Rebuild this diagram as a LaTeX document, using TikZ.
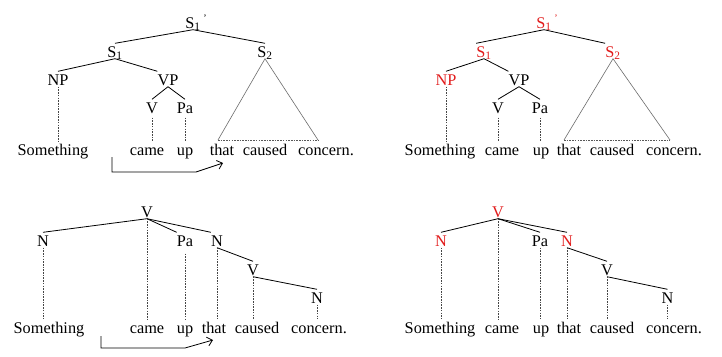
\documentclass[tikz,border=0pt]{standalone}
\usepackage{fontspec}
\setmainfont{Liberation Serif}
\usetikzlibrary{arrows.meta}
\definecolor{hl}{RGB}{226,28,28}
\definecolor{dl}{RGB}{70,70,70}
\tikzset{
  lab/.style={inner xsep=0pt, inner ysep=1.5pt, text height=12pt, text depth=0pt, anchor=base, font=\fontsize{16.3}{19}\selectfont},
  hlab/.style={lab, text=hl},
  tree/.style={line width=0.8pt, black},
  dotl/.style={line width=0.5pt, dl, dash pattern=on 1.6pt off 1.1pt},
  tri/.style={line width=0.6pt, gray!85!black},
  trib/.style={line width=0.6pt, gray!70!black, dash pattern=on 1.6pt off 1.1pt},
  arr/.style={line width=0.8pt, black, -{Straight Barb[length=5pt,width=9pt]}}
}
\newcommand{\Sone}{S\textsubscript{1}}
\newcommand{\Stwo}{S\textsubscript{2}}
\newcommand{\Sprime}{S\textsubscript{1}\rlap{\,\textsuperscript{\fontsize{10}{10}\selectfont'}}}
\begin{document}
\begin{tikzpicture}[x=1pt,y=-1pt]
\path[use as bounding box,fill=white] (0,0) rectangle (722,356);

% ---------- top left ----------
\node[lab] (aS1p) at (193,28) {\Sprime};
\node[lab] (aS1) at (115,57) {\Sone};
\node[lab] (aS2) at (265,57) {\Stwo};
\node[lab] (aNP) at (58,85) {NP};
\node[lab] (aVP) at (168,85) {VP};
\node[lab] (aV) at (152,113) {V};
\node[lab] (aPa) at (185,113) {Pa};
\node[lab] (aw1) at (53,155) {Something};
\node[lab] (aw2) at (147,155) {came};
\node[lab] (aw3) at (185,155) {up};
\node[lab] (aw4) at (222,155) {that};
\node[lab] (aw5) at (265,155) {caused};
\node[lab] (aw6) at (326,155) {concern.};
\draw[tree] (aS1p.south) -- (aS1.north);
\draw[tree] (aS1p.south) -- (aS2.north);
\draw[tree] (aS1.south) -- (aNP.north);
\draw[tree] (aS1.south) -- (aVP.north west);
\draw[tree] (aVP.south) -- (aV.north);
\draw[tree] (aVP.south) -- (aPa.north);
\draw[dotl] (aNP.south) -- (aNP.south |- aw1.north);
\draw[dotl,shorten <=3pt] (aV.south) -- (aV.south |- aw2.north);
\draw[dotl,shorten <=3pt] (aPa.south) -- (aPa.south |- aw3.north);
\coordinate (atl) at (218,140);
\coordinate (atr) at (318,140);
\draw[tri] (atl) -- (aS2.south) -- (atr);
\draw[trib] (atl) -- (atr);
\coordinate (aa0) at (112,157);
\coordinate (aa1) at (196,172);
\coordinate (aa2) at (223,163);
\draw[arr] (aa0) |- (aa1) -- (aa2);

% ---------- top right ----------
\node[hlab] (bS1p) at (544,28) {\Sprime};
\node[hlab] (bS1) at (484,57) {\Sone};
\node[hlab] (bS2) at (613,57) {\Stwo};
\node[hlab] (bNP) at (446,85) {NP};
\node[lab] (bVP) at (519,85) {VP};
\node[lab] (bV) at (498,113) {V};
\node[lab] (bPa) at (540,113) {Pa};
\node[lab] (bw1) at (440,155) {Something};
\node[lab] (bw2) at (502,155) {came};
\node[lab] (bw3) at (541,155) {up};
\node[lab] (bw4) at (569,155) {that};
\node[lab] (bw5) at (612,155) {caused};
\node[lab] (bw6) at (674,155) {concern.};
\draw[tree] (bS1p.south) -- (bS1.north west);
\draw[tree] (bS1p.south) -- (bS2.north west);
\draw[tree] (bS1.south) -- (bNP.north);
\draw[tree] (bS1.south) -- (bVP.north west);
\draw[tree] (bVP.south) -- (bV.north);
\draw[tree] (bVP.south) -- (bPa.north);
\draw[dotl] (bNP.south) -- (bNP.south |- bw1.north);
\draw[dotl,shorten <=3pt] (bV.south) -- (bV.south |- bw2.north);
\draw[dotl,shorten <=3pt] (bPa.south) -- (bPa.south |- bw3.north);
\coordinate (btl) at (564,140);
\coordinate (btr) at (670,140);
\draw[tri] (btl) -- (bS2.south) -- (btr);
\draw[trib] (btl) -- (btr);

% ---------- bottom left ----------
\node[lab] (cV) at (147,217) {V};
\node[lab] (cN) at (43,246) {N};
\node[lab] (cPa) at (185,246) {Pa};
\node[lab] (cN2) at (217,246) {N};
\node[lab] (cV2) at (253,275) {V};
\node[lab] (cN3) at (317,303) {N};
\node[lab] (cw1) at (49,333) {Something};
\node[lab] (cw2) at (147,333) {came};
\node[lab] (cw3) at (185,333) {up};
\node[lab] (cw4) at (214,333) {that};
\node[lab] (cw5) at (257,333) {caused};
\node[lab] (cw6) at (319,333) {concern.};
\draw[tree] (cV.south) -- (cN.north);
\draw[tree] (cV.south) -- (cPa.north west);
\draw[tree] (cV.south) -- (cN2.north west);
\draw[tree] (cN2.south) -- (cV2.north);
\draw[tree] (cV2.south) -- (cN3.north);
\draw[dotl] (cV.south) -- (cV.south |- cw2.north);
\draw[dotl] (cN.south) -- (cN.south |- cw1.north);
\draw[dotl,shorten <=6pt] (cPa.south) -- (cPa.south |- cw3.north);
\draw[dotl] (cN2.south) -- (cN2.south |- cw4.north);
\draw[dotl] (cV2.south) -- (cV2.south |- cw5.north);
\draw[dotl] (cN3.south) -- (cN3.south |- cw6.north);
\coordinate (ca0) at (101,336);
\coordinate (ca1) at (185,348);
\coordinate (ca2) at (213,340);
\draw[arr] (ca0) |- (ca1) -- (ca2);

% ---------- bottom right ----------
\node[hlab] (dV) at (498,217) {V};
\node[hlab] (dN) at (441,246) {N};
\node[lab] (dPa) at (540,246) {Pa};
\node[hlab] (dN2) at (567,246) {N};
\node[lab] (dV2) at (607,275) {V};
\node[lab] (dN3) at (667.5,303) {N};
\node[lab] (dw1) at (440,333) {Something};
\node[lab] (dw2) at (502,333) {came};
\node[lab] (dw3) at (541,333) {up};
\node[lab] (dw4) at (569,333) {that};
\node[lab] (dw5) at (612,333) {caused};
\node[lab] (dw6) at (674,333) {concern.};
\draw[tree] (dV.south) -- (dN.north);
\draw[tree] (dV.south) -- (dPa.north);
\draw[tree] (dV.south) -- (dN2.north);
\draw[tree] (dN2.south) -- (dV2.north);
\draw[tree] (dV2.south) -- (dN3.north);
\draw[dotl] (dV.south) -- (dV.south |- dw2.north);
\draw[dotl] (dN.south) -- (dN.south |- dw1.north);
\draw[dotl] (dPa.south) -- (dPa.south |- dw3.north);
\draw[dotl] (dN2.south) -- (dN2.south |- dw4.north);
\draw[dotl] (dV2.south) -- (dV2.south |- dw5.north);
\draw[dotl] (dN3.south) -- (dN3.south |- dw6.north);
\end{tikzpicture}
\end{document}
